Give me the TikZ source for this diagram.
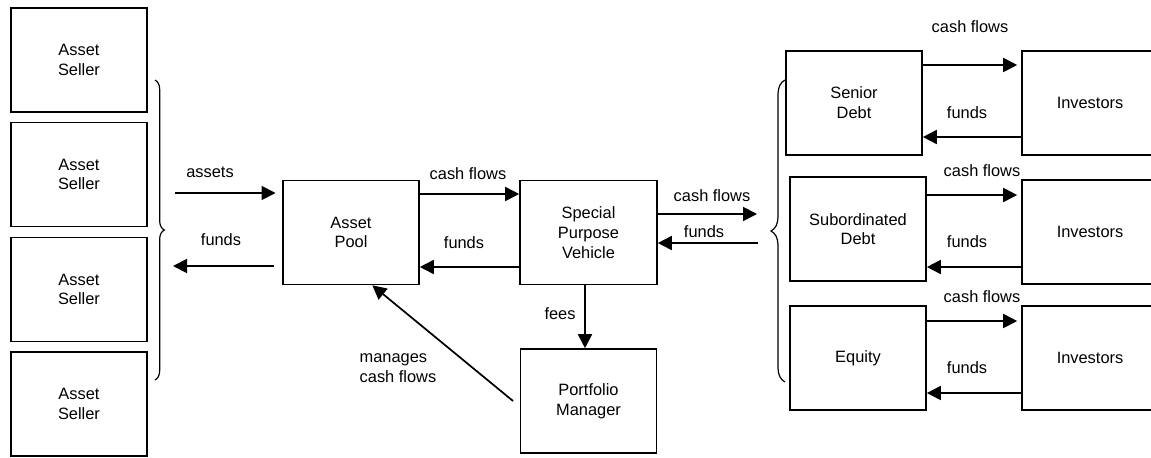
\documentclass[tikz,border=0pt]{standalone}
\usepackage{fontspec}
\setmainfont{Liberation Sans}
\usetikzlibrary{positioning, calc, arrows.meta, decorations.pathreplacing}

\begin{document}
\begin{tikzpicture}[
  x=0.75pt, y=-0.75pt,
  every node/.style={font=\fontsize{12.3}{14.8}\selectfont},
  box/.style={draw, line width=1.2pt, minimum width=102pt, minimum height=78pt, align=center, inner sep=2pt},
  flow/.style={line width=1.3pt, -{Triangle[length=10.5pt,width=10.5pt]}},
  brc/.style={decorate, line width=0.9pt},
]
\useasboundingbox (0,0) rectangle (1151,457);
\clip (0,0) rectangle (1151,457);

% Asset sellers
\foreach \i/\yy in {1/60, 2/174.5, 3/289.5, 4/404} {
  \node[box] (seller\i) at (79,\yy) {Asset\\Seller};
}
\draw[brc, decoration={brace, amplitude=7pt}] (155,80) -- (155,380);

% Pool, vehicle and manager
\node[box] (pool) at (351,232.5) {Asset\\Pool};
\node[box, minimum width=102.75pt] (spv) at (588.5,232.5) {Special\\Purpose\\Vehicle};
\node[box] (pm) at (588.5,401) {Portfolio\\Manager};

% Tranches and their investors
\node[box] (senior) at (854,103) {Senior\\Debt};
\node[box] (sub) at (858,229) {Subordinated\\Debt};
\node[box] (equity) at (858,358) {Equity};
\node[box] (inv1) at (1090,103) {Investors};
\node[box] (inv2) at (1090,232) {Investors};
\node[box] (inv3) at (1090,358) {Investors};
\draw[brc, decoration={brace, amplitude=10.5pt}] (785,382) -- (785,80);

% Sellers <-> pool
\coordinate (sellin) at (175,193);
\coordinate (sellout) at (173,266);
\draw[flow, shorten >=5pt] (sellin) -- (pool.west |- sellin);
\draw[flow, shorten <=6pt] (pool.west |- sellout) -- (sellout);
\node (assetslbl) at (210,172) {assets};
\node (fundslbl) at (221,240) {funds};

% Pool <-> vehicle
\draw[flow] (pool.east |- 0,194) -- (spv.west |- 0,194);
\draw[flow] (spv.west |- 0,267) -- (pool.east |- 0,267);
\node (poolcash) at (468,174) {cash flows};
\node (poolfunds) at (464,243) {funds};

% Vehicle <-> tranches
\coordinate (trin) at (757,214);
\coordinate (trout) at (758,243);
\draw[flow] (spv.east |- trin) -- (trin);
\draw[flow] (trout) -- (spv.east |- trout);
\node (spvcash) at (712,196) {cash flows};
\node (spvfunds) at (704,232) {funds};

% Fees and management
\draw[flow] (spv.south -| 585,0) -- (pm.north -| 585,0);
\node (feeslbl) at (560,314) {fees};
\draw[flow] ([xshift=-5pt]pm.west) -- ([xshift=16pt]pool.south);
\node[align=left, anchor=west] (mgrlbl) at (355,368) {manages\\cash flows};

% Tranches <-> investors
\foreach \t/\inv/\cy/\fy in {senior/inv1/65/137, sub/inv2/195/267, equity/inv3/321/393} {
  \draw[flow, shorten >=3pt] (\t.east |- 0,\cy) -- (\inv.west |- 0,\cy);
  \draw[flow] (\inv.west |- 0,\fy) -- (\t.east |- 0,\fy);
}
\foreach \x/\yy in {970/27, 982/171, 982/297} {
  \node at (\x,\yy) {cash flows};
}
\foreach \yy in {113, 242, 368} {
  \node at (967,\yy) {funds};
}
\end{tikzpicture}
\end{document}
